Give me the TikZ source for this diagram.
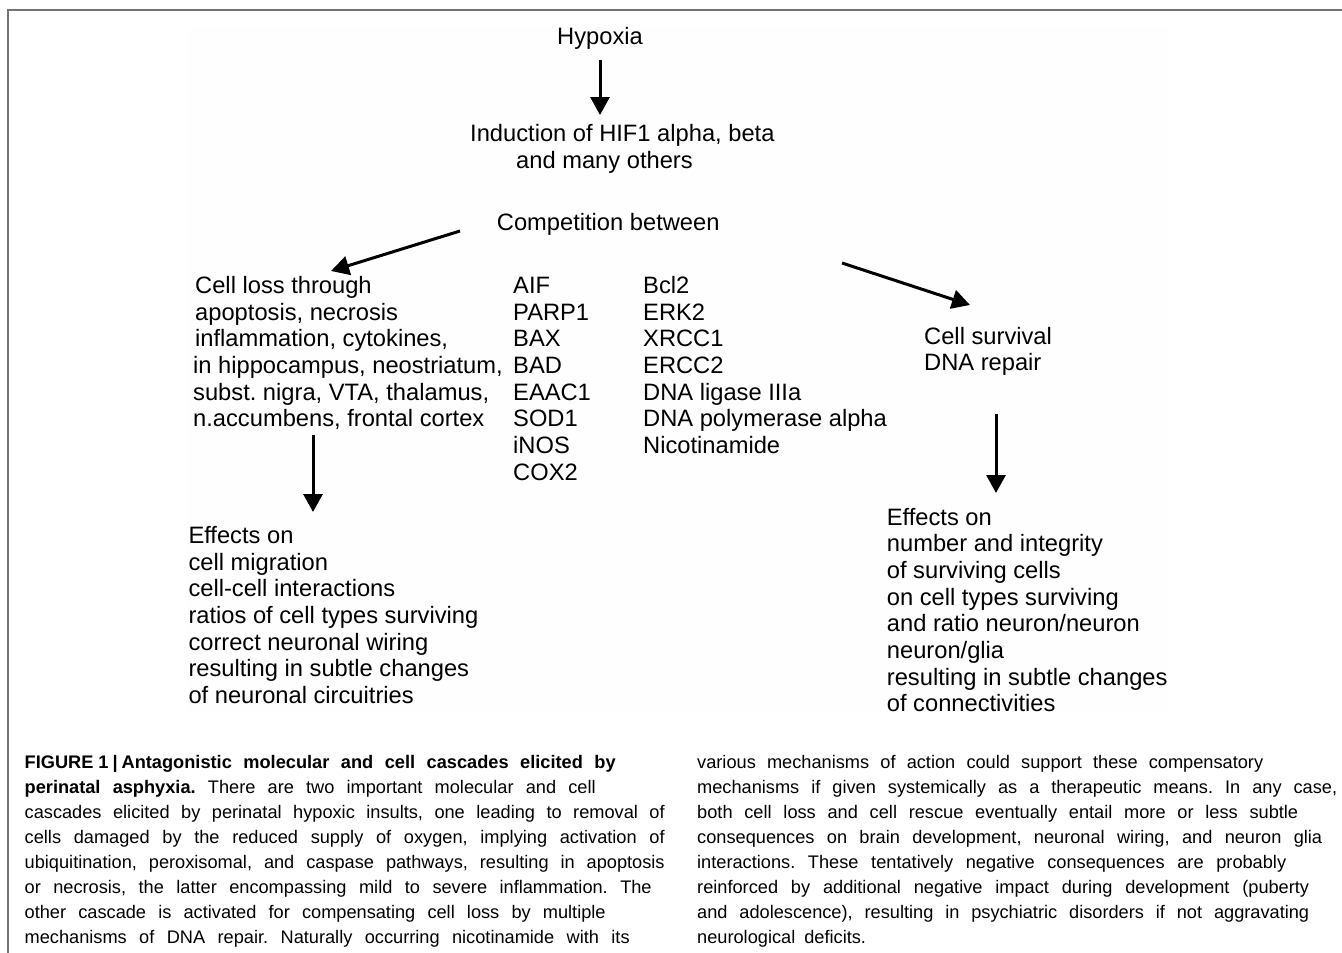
\documentclass[tikz,border=0pt]{standalone}
\usepackage{fontspec}
\setmainfont{Liberation Sans}
\usetikzlibrary{arrows.meta}
\newcommand\capline[2]{\makebox[#1pt][s]{#2}}
\frenchspacing
\begin{document}
\begin{tikzpicture}[x=1pt,y=-1pt,
  txt/.style={inner sep=0pt, anchor=base west, font=\fontsize{23.7}{26.7}\selectfont},
  captxt/.style={inner sep=0pt, anchor=base west, font=\fontsize{18.2}{25}\selectfont\frenchspacing},
  flow/.style={line width=3pt, -{Triangle[width=19pt,length=18pt]}},
  frameline/.style={draw=black!55, line width=2pt}]
\useasboundingbox (0,0) rectangle (1342,953);
% faint image area and frame
\fill[black!0.5] (187,27) rectangle (1169,713);
\draw[frameline] (8,953) -- (8,10) -- (1342,10);

% top chain
\node[txt] (hyp) at (557,45) {Hypoxia};
\node[txt] (ind) at (470,141.7) {\begin{tabular}[t]{@{}l@{}}Induction of HIF1 alpha, beta\\\hspace{46pt}and many others\end{tabular}};
\node[txt] (comp) at (496.7,230) {Competition between};

% left branch
\node[txt] (loss) at (193,293.3) {\begin{tabular}[t]{@{}l@{}}\hspace{2pt}Cell loss through\\\hspace{2pt}apoptosis, necrosis\\\hspace{2pt}inflammation, cytokines,\\in hippocampus, neostriatum,\\subst. nigra, VTA, thalamus,\\n.accumbens, frontal cortex\end{tabular}};
\node[txt] (mid1) at (513,293.3) {\begin{tabular}[t]{@{}l@{}}AIF\\PARP1\\BAX\\BAD\\EAAC1\\SOD1\\iNOS\\COX2\end{tabular}};
\node[txt] (mid2) at (643,293.3) {\begin{tabular}[t]{@{}l@{}}Bcl2\\ERK2\\XRCC1\\ERCC2\\DNA ligase IIIa\\DNA polymerase alpha\\Nicotinamide\end{tabular}};
\node[txt] (surv) at (924,344) {\begin{tabular}[t]{@{}l@{}}Cell survival\\DNA repair\end{tabular}};

\node[txt] (effl) at (188.3,543.3) {\begin{tabular}[t]{@{}l@{}}Effects on\\cell migration\\cell-cell interactions\\ratios of cell types surviving\\correct neuronal wiring\\resulting in subtle changes\\of neuronal circuitries\end{tabular}};
\node[txt] (effr) at (886.7,525) {\begin{tabular}[t]{@{}l@{}}Effects on\\number and integrity\\of surviving cells\\on cell types surviving\\and ratio neuron/neuron\\neuron/glia\\resulting in subtle changes\\of connectivities\end{tabular}};

% arrow end points
\coordinate (a1s) at (600,60);   \coordinate (a1e) at (600,115);
\coordinate (a2s) at (460,231);  \coordinate (a2e) at (331,271);
\coordinate (a3s) at (842,263);  \coordinate (a3e) at (970,305);
\coordinate (a4s) at (313,435);  \coordinate (a4e) at (313,512);
\coordinate (a5s) at (996,414);  \coordinate (a5e) at (996,493);
\draw[flow] (a1s) -- (a1e);
\draw[flow] (a2s) -- (a2e);
\draw[flow] (a3s) -- (a3e);
\draw[flow] (a4s) -- (a4e);
\draw[flow] (a5s) -- (a5e);

% caption
\node[captxt] (capl) at (24.5,768) {\begin{tabular}[t]{@{}l@{}}%
\capline{591}{\textbf{FIGURE\kern5pt1\kern4pt|\kern4ptAntagonistic molecular and cell cascades elicited by}}\\
\capline{571}{\textbf{perinatal asphyxia.} There are two important molecular and cell}\\
\capline{640}{cascades elicited by perinatal hypoxic insults, one leading to removal of}\\
\capline{640}{cells damaged by the reduced supply of oxygen, implying activation of}\\
\capline{640}{ubiquitination, peroxisomal, and caspase pathways, resulting in apoptosis}\\
\capline{627}{or necrosis, the latter encompassing mild to severe inflammation. The}\\
\capline{581}{other cascade is activated for compensating cell loss by multiple}\\
\capline{605}{mechanisms of DNA repair. Naturally occurring nicotinamide with its}\end{tabular}};
\node[captxt] (capr) at (697,768) {\begin{tabular}[t]{@{}l@{}}%
\capline{566}{various mechanisms of action could support these compensatory}\\
\capline{640}{mechanisms if given systemically as a therapeutic means. In any case,}\\
\capline{601}{both cell loss and cell rescue eventually entail more or less subtle}\\
\capline{625}{consequences on brain development, neuronal wiring, and neuron glia}\\
\capline{589}{interactions. These tentatively negative consequences are probably}\\
\capline{612}{reinforced by additional negative impact during development (puberty}\\
\capline{612}{and adolescence), resulting in psychiatric disorders if not aggravating}\\
neurological\kern9pt deficits.\end{tabular}};
\end{tikzpicture}
\end{document}
